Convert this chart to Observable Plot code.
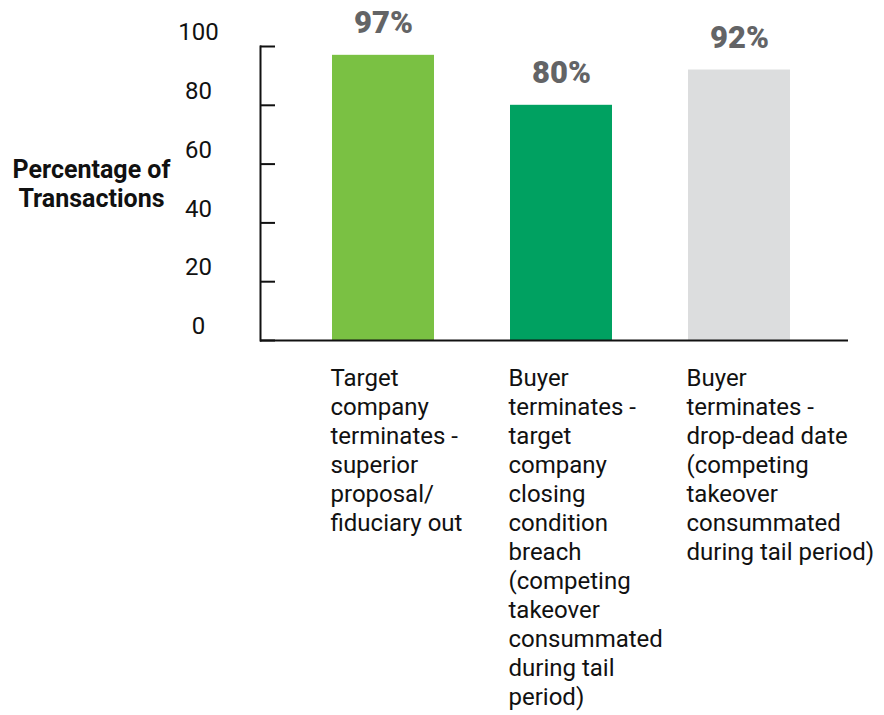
<!DOCTYPE html>
<html>
<head>
<meta charset="utf-8">
<script src="https://cdn.jsdelivr.net/npm/d3@7"></script>
<script src="https://cdn.jsdelivr.net/npm/@observablehq/plot@0.6"></script>
<style>
  html, body { margin: 0; padding: 0; background: #fff; }
  #chart svg { font-family: Roboto, "DejaVu Sans", sans-serif; }
</style>
</head>
<body>
<div id="chart"></div>
<script>
const categories = [
  "Target\ncompany\nterminates -\nsuperior\nproposal/\nfiduciary out",
  "Buyer\nterminates -\ntarget\ncompany\nclosing\ncondition\nbreach\n(competing\ntakeover\nconsummated\nduring tail\nperiod)",
  "Buyer\nterminates -\ndrop-dead date\n(competing\ntakeover\nconsummated\nduring tail period)"
];
const values = [97, 80, 92];
const barColors = ["#7AC143", "#00A161", "#DCDDDE"];
const yTicks = [0, 20, 40, 60, 80, 100];
const yLabel = "Percentage of\nTransactions";

const data = categories.map((c, i) => ({category: c, value: values[i]}));

const chart = Plot.plot({
  width: 884,
  height: 715,
  marginTop: 46,
  marginBottom: 375,
  marginLeft: 260,
  marginRight: 36,
  style: {background: "#fff", color: "#111", fontFamily: "Roboto, sans-serif"},
  x: {domain: categories, paddingInner: 0.4286, paddingOuter: 0.361, align: 0.55, label: null},
  y: {domain: [0, 100], label: null},
  color: {domain: categories, range: barColors},
  marks: [
    Plot.barY(data, {x: "category", y: "value", fill: "category"}),
    Plot.text(data, {x: "category", y: "value", text: d => d.value + "%", dy: -22, lineAnchor: "bottom",
      fontSize: 31, fontWeight: 900, fill: "#636466"}),
    Plot.frame({anchor: "left", stroke: "#111", strokeWidth: 2}),
    Plot.ruleY([0], {stroke: "#111", strokeWidth: 2}),
    Plot.axisY({ticks: yTicks, tickSize: -15, strokeWidth: 2, stroke: "#111", tickFormat: () => ""}),
    Plot.axisY({ticks: yTicks, tickSize: 0, tickPadding: 0, textAnchor: "middle", dx: -62, dy: -14,
      fontSize: 24, fill: "#111"}),
    Plot.axisX({tickSize: 0, textAnchor: "start", dx: -53, tickPadding: 25, lineAnchor: "top",
      fontSize: 24, lineHeight: 29 / 24, fill: "#111"}),
    Plot.text([yLabel], {frameAnchor: "left", dx: -169, dy: -10, textAnchor: "middle",
      fontSize: 25, fontWeight: 700, lineHeight: 29 / 25, fill: "#111"})
  ]
});
document.getElementById("chart").appendChild(chart);
</script>
</body>
</html>
